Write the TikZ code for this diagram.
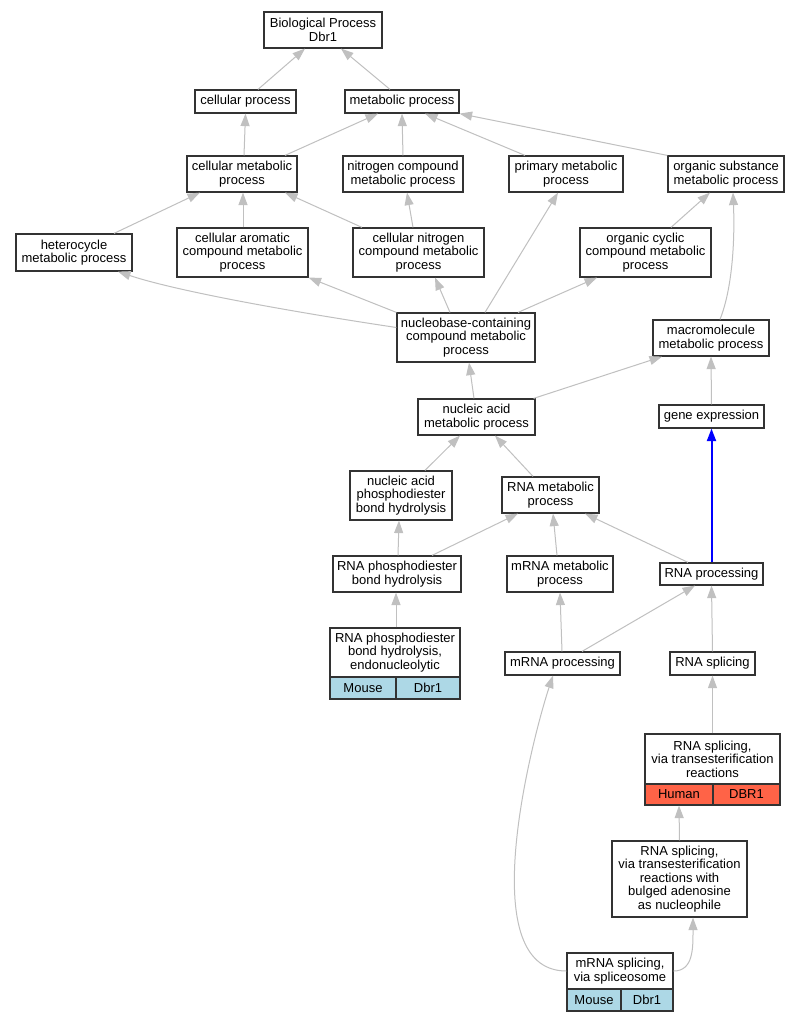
\documentclass[tikz,border=0pt]{standalone}
\usepackage{fontspec}
\setmainfont{Liberation Sans}
\usetikzlibrary{arrows.meta}
\definecolor{edgegray}{HTML}{C0C0C0}
\definecolor{lblue}{HTML}{ADD8E6}
\definecolor{tomato}{HTML}{FF6347}
\definecolor{bordergray}{HTML}{333333}
\definecolor{edgeblue}{HTML}{0000FF}
\begin{document}
\begin{tikzpicture}[x=1pt,y=-1pt,
  box/.style={draw=bordergray, line width=1.2pt, fill=white, inner sep=0pt, align=center, font=\fontsize{13}{13.4}\selectfont},
  edge/.style={draw=edgegray, line width=1pt, -{Triangle[length=12.5pt,width=9pt]}},
  blueedge/.style={draw=edgeblue, fill=edgeblue, line width=2pt, -{Triangle[length=12.5pt,width=9pt]}}]
\useasboundingbox (0,0) rectangle (799,1021);
\fill[white] (0,0) rectangle (799,1021);
% nodes
\node[box, minimum width=118pt, minimum height=36pt] (bp) at (323,30) {Biological Process\\Dbr1};
\node[box, minimum width=101pt, minimum height=23pt] (cp) at (245.5,101.5) {cellular process};
\node[box, minimum width=114pt, minimum height=23pt] (mp) at (402,101.5) {metabolic process};
\node[box, minimum width=110pt, minimum height=36pt] (cmp) at (242,174) {cellular metabolic\\process};
\node[box, minimum width=120pt, minimum height=36pt] (ncmp) at (403,174) {nitrogen compound\\metabolic process};
\node[box, minimum width=114pt, minimum height=36pt] (pmp) at (566,174) {primary metabolic\\process};
\node[box, minimum width=116pt, minimum height=36pt] (osmp) at (726,174) {organic substance\\metabolic process};
\node[box, minimum width=116pt, minimum height=37pt] (hmp) at (74,252.5) {heterocycle\\metabolic process};
\node[box, minimum width=131pt, minimum height=49pt] (camp) at (242.5,252.5) {cellular aromatic\\compound metabolic\\process};
\node[box, minimum width=131pt, minimum height=49pt] (cncmp) at (418.5,252.5) {cellular nitrogen\\compound metabolic\\process};
\node[box, minimum width=131pt, minimum height=49pt] (occmp) at (645.5,252.5) {organic cyclic\\compound metabolic\\process};
\node[box, minimum width=138pt, minimum height=49pt] (nbcmp) at (466,337.5) {nucleobase-containing\\compound metabolic\\process};
\node[box, minimum width=116pt, minimum height=36pt] (mmp) at (711,338) {macromolecule\\metabolic process};
\node[box, minimum width=117pt, minimum height=36pt] (namp) at (476.5,417) {nucleic acid\\metabolic process};
\node[box, minimum width=105pt, minimum height=23pt] (ge) at (711.5,416.5) {gene expression};
\node[box, minimum width=102pt, minimum height=49pt] (napbh) at (401,495.5) {nucleic acid\\phosphodiester\\bond hydrolysis};
\node[box, minimum width=97pt, minimum height=36pt] (rmp) at (550.5,495) {RNA metabolic\\process};
\node[box, minimum width=128pt, minimum height=36pt] (rpbh) at (397,574) {RNA phosphodiester\\bond hydrolysis};
\node[box, minimum width=106pt, minimum height=36pt] (mrmp) at (560,574) {mRNA metabolic\\process};
\node[box, minimum width=103pt, minimum height=22pt] (rp) at (711.5,574) {RNA processing};
\node[box, minimum width=130pt, minimum height=49pt] (endo) at (395,652.5) {RNA phosphodiester\\bond hydrolysis,\\endonucleolytic};
\node[box, fill=lblue, minimum width=66pt, minimum height=22pt] (endoL) at (363,688) {Mouse};
\node[box, fill=lblue, minimum width=64pt, minimum height=22pt] (endoR) at (428,688) {Dbr1};
\node[box, minimum width=115pt, minimum height=23pt] (mrp) at (562.5,663.5) {mRNA processing};
\node[box, minimum width=85pt, minimum height=23pt] (rs) at (712.5,663.5) {RNA splicing};
\node[box, minimum width=135pt, minimum height=50pt] (rst) at (712.5,759) {RNA splicing,\\via transesterification\\reactions};
\node[box, fill=tomato, minimum width=68pt, minimum height=21pt] (rstL) at (679,794.5) {Human};
\node[box, fill=tomato, minimum width=67pt, minimum height=21pt] (rstR) at (746.5,794.5) {DBR1};
\node[box, minimum width=135pt, minimum height=76pt] (bul) at (679.5,879) {RNA splicing,\\via transesterification\\reactions with\\bulged adenosine\\as nucleophile};
\node[box, minimum width=106pt, minimum height=36pt] (mrs) at (620,971) {mRNA splicing,\\via spliceosome};
\node[box, fill=lblue, minimum width=54pt, minimum height=22pt] (mrsL) at (594,1000) {Mouse};
\node[box, fill=lblue, minimum width=52pt, minimum height=22pt] (mrsR) at (647,1000) {Dbr1};
% edges
\draw[edge] ([xshift=12.5pt]cp.north) -- ([xshift=-18pt]bp.south);
\draw[edge] ([xshift=-12pt]mp.north) -- ([xshift=18pt]bp.south);
\draw[edge] ([xshift=2pt]cmp.north) -- (cp.south);
\draw[edge] ([xshift=43pt]cmp.north) -- ([xshift=-24pt]mp.south);
\draw[edge] (ncmp.north) -- (mp.south);
\draw[edge] ([xshift=-41pt]pmp.north) -- ([xshift=23pt]mp.south);
\draw[edge] (osmp.north west) -- (mp.south east);
\draw[edge] ([xshift=40pt]hmp.north) -- ([xshift=-42pt]cmp.south);
\draw[edge] ([xshift=0.5pt]camp.north) -- ([xshift=1pt]cmp.south);
\draw[edge] ([xshift=-56.5pt]cncmp.north) -- ([xshift=43pt]cmp.south);
\draw[edge] ([xshift=-5.5pt]cncmp.north) -- ([xshift=4pt]ncmp.south);
\draw[edge] ([xshift=25.5pt]occmp.north) -- ([xshift=-16pt]osmp.south);
\draw[edge] ([xshift=9pt]mmp.north) .. controls +(12,-30) and +(2,50) .. ([xshift=7pt]osmp.south);
\draw[edge] ([yshift=10pt]nbcmp.west) .. controls +(-100,-15) and +(60,20) .. ([xshift=44pt]hmp.south);
\draw[edge] (nbcmp.north west) -- (camp.south east);
\draw[edge] ([xshift=-16pt]nbcmp.north) -- ([xshift=16.5pt]cncmp.south);
\draw[edge] ([xshift=19pt]nbcmp.north) -- ([xshift=-8pt]pmp.south);
\draw[edge] ([xshift=52pt]nbcmp.north) -- ([xshift=-48.5pt]occmp.south);
\draw[edge] ([xshift=-2.5pt]namp.north) -- ([xshift=3pt]nbcmp.south);
\draw[edge] ([xshift=-2pt]namp.north east) -- ([xshift=-49pt]mmp.south);
\draw[edge] (ge.north) -- (mmp.south);
\draw[edge] ([xshift=24pt]napbh.north) -- ([xshift=-16.5pt]namp.south);
\draw[edge] ([xshift=-17.5pt]rmp.north) -- ([xshift=18.5pt]namp.south);
\draw[edge] ([xshift=1pt]rpbh.north) -- ([xshift=-2pt]napbh.south);
\draw[edge] ([xshift=35pt]rpbh.north) -- ([xshift=-32.5pt]rmp.south);
\draw[edge] ([xshift=-3pt]mrmp.north) -- ([xshift=2.5pt]rmp.south);
\draw[edge] ([xshift=-23.5pt]rp.north) -- ([xshift=34.5pt]rmp.south);
\draw[blueedge] (rp.north) -- (ge.south);
\draw[edge] ([xshift=1pt]endo.north) -- ([xshift=-1pt]rpbh.south);
\draw[edge] ([xshift=-0.5pt]mrp.north) -- (mrmp.south);
\draw[edge] ([xshift=19.5pt]mrp.north) -- ([xshift=-16.5pt]rp.south);
\draw[edge] (rs.north) -- (rp.south);
\draw[edge] (rst.north) -- (rs.south);
\draw[edge] (bul.north) -- (rstL.south);
\draw[edge] (mrs.west) .. controls +(-97,0) and +(-18,54) .. ([xshift=-9.5pt]mrp.south);
\draw[edge] (mrs.east) .. controls +(20,0) and +(0,30) .. ([xshift=13.5pt]bul.south);
\end{tikzpicture}
\end{document}
